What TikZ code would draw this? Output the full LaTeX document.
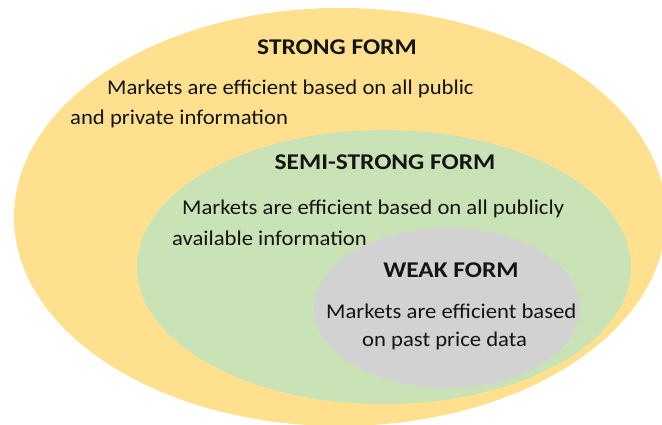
\documentclass[tikz,border=0pt]{standalone}
\usepackage{fontspec}
\setmainfont{Carlito}
\definecolor{strongY}{HTML}{FEE08E}
\definecolor{semiG}{HTML}{C9E3B6}
\definecolor{weakG}{HTML}{D2D2D2}
\definecolor{txt}{HTML}{141414}
\newcommand{\tstretch}[1]{\scalebox{1.13}[1]{#1}}
\newcommand{\bstretch}[1]{\scalebox{1.08}[1]{#1}}
\begin{document}
\begin{tikzpicture}[x=1pt,y=-1pt,
  title/.style={font=\fontsize{22.5}{26}\selectfont\bfseries, text=txt, inner sep=0pt},
  body/.style={font=\fontsize{21}{25}\selectfont, text=txt, inner sep=0pt, anchor=west}]
\useasboundingbox (0,0) rectangle (662,424);
\begin{scope}
\clip (0,0) rectangle (662,424);
\fill[strongY] (340,217) ellipse [x radius=326, y radius=209];
\fill[semiG] (384,267) ellipse [x radius=247, y radius=137];
\fill[weakG] (447,308) ellipse [x radius=133, y radius=80];
\end{scope}
\node[title] (strong) at (337,47) {\tstretch{STRONG FORM}};
\node[body] (s1) at (107,89) {\bstretch{Markets are efficient based on all public}};
\node[body] (s2) at (70,119) {\bstretch{and private information}};
\node[title] (semi) at (385,162) {\tstretch{SEMI-STRONG FORM}};
\node[body] (m1) at (182,209) {\bstretch{Markets are efficient based on all publicly}};
\node[body] (m2) at (172,238) {\bstretch{available information}};
\node[title] (weak) at (451,270) {\tstretch{WEAK FORM}};
\node[body] (w1) at (326,311) {\bstretch{Markets are efficient based}};
\node[body] (w2) at (362,341) {\bstretch{on past price data}};
\end{tikzpicture}
\end{document}
